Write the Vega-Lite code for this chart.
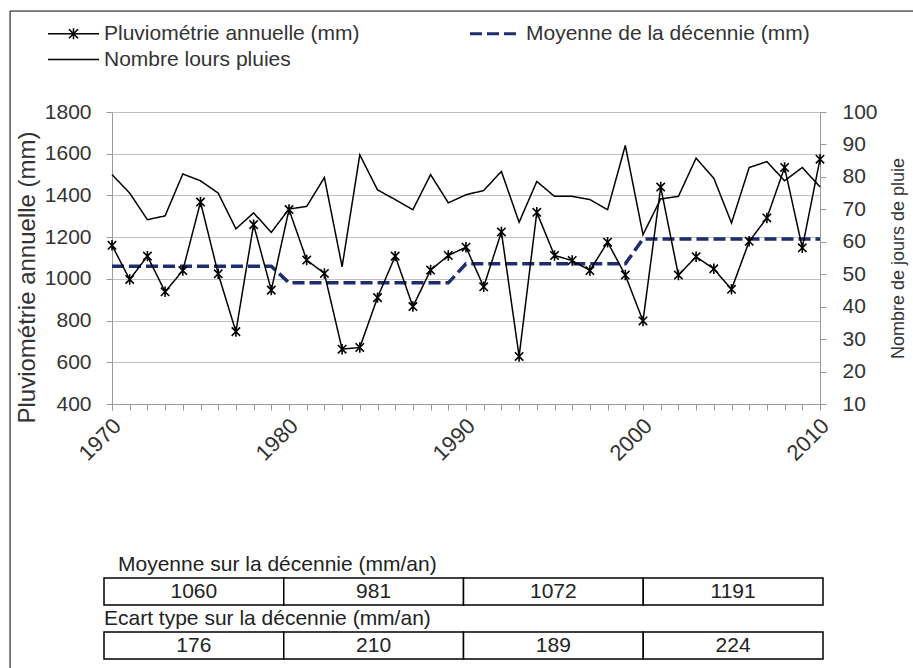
{
  "$schema": "https://vega.github.io/schema/vega-lite/v6.json",
  "width": 708,
  "height": 292,
  "autosize": {"type": "none"},
  "padding": {"left": 112, "top": 112, "right": 93, "bottom": 264},
  "background": "white",
  "config": {
    "font": "Liberation Sans",
    "view": {"stroke": null},
    "axis": {"labelFont": "Liberation Sans", "titleFont": "Liberation Sans", "labelColor": "#333", "titleColor": "#333", "titleFontWeight": "normal"},
    "text": {"font": "Liberation Sans"}
  },
  "datasets": {
    "annees": [
      {"annee": 1970, "pluie": 1161, "jours": 80.7, "moyenne": 1060},
      {"annee": 1971, "pluie": 997, "jours": 75, "moyenne": 1060},
      {"annee": 1972, "pluie": 1109, "jours": 66.8, "moyenne": 1060},
      {"annee": 1973, "pluie": 938, "jours": 68, "moyenne": 1060},
      {"annee": 1974, "pluie": 1040, "jours": 80.9, "moyenne": 1060},
      {"annee": 1975, "pluie": 1368, "jours": 78.8, "moyenne": 1060},
      {"annee": 1976, "pluie": 1024, "jours": 75, "moyenne": 1060},
      {"annee": 1977, "pluie": 747, "jours": 64, "moyenne": 1060},
      {"annee": 1978, "pluie": 1260, "jours": 68.9, "moyenne": 1060},
      {"annee": 1979, "pluie": 946, "jours": 62.9, "moyenne": 1060},
      {"annee": 1980, "pluie": 1332, "jours": 70.1, "moyenne": 981},
      {"annee": 1981, "pluie": 1090, "jours": 70.9, "moyenne": 981},
      {"annee": 1982, "pluie": 1026, "jours": 79.8, "moyenne": 981},
      {"annee": 1983, "pluie": 663, "jours": 52.3, "moyenne": 981},
      {"annee": 1984, "pluie": 671, "jours": 86.8, "moyenne": 981},
      {"annee": 1985, "pluie": 910, "jours": 76, "moyenne": 981},
      {"annee": 1986, "pluie": 1109, "jours": 73, "moyenne": 981},
      {"annee": 1987, "pluie": 867, "jours": 69.9, "moyenne": 981},
      {"annee": 1988, "pluie": 1042, "jours": 80.7, "moyenne": 981},
      {"annee": 1989, "pluie": 1112, "jours": 72, "moyenne": 981},
      {"annee": 1990, "pluie": 1152, "jours": 74.5, "moyenne": 1072},
      {"annee": 1991, "pluie": 962, "jours": 75.8, "moyenne": 1072},
      {"annee": 1992, "pluie": 1225, "jours": 81.7, "moyenne": 1072},
      {"annee": 1993, "pluie": 628, "jours": 66, "moyenne": 1072},
      {"annee": 1994, "pluie": 1319, "jours": 78.6, "moyenne": 1072},
      {"annee": 1995, "pluie": 1112, "jours": 74, "moyenne": 1072},
      {"annee": 1996, "pluie": 1088, "jours": 74, "moyenne": 1072},
      {"annee": 1997, "pluie": 1040, "jours": 73, "moyenne": 1072},
      {"annee": 1998, "pluie": 1176, "jours": 69.9, "moyenne": 1072},
      {"annee": 1999, "pluie": 1018, "jours": 89.7, "moyenne": 1072},
      {"annee": 2000, "pluie": 798, "jours": 62.2, "moyenne": 1191},
      {"annee": 2001, "pluie": 1440, "jours": 73.2, "moyenne": 1191},
      {"annee": 2002, "pluie": 1018, "jours": 74, "moyenne": 1191},
      {"annee": 2003, "pluie": 1106, "jours": 85.8, "moyenne": 1191},
      {"annee": 2004, "pluie": 1048, "jours": 79.6, "moyenne": 1191},
      {"annee": 2005, "pluie": 950, "jours": 65.8, "moyenne": 1191},
      {"annee": 2006, "pluie": 1180, "jours": 82.9, "moyenne": 1191},
      {"annee": 2007, "pluie": 1292, "jours": 84.7, "moyenne": 1191},
      {"annee": 2008, "pluie": 1534, "jours": 78.8, "moyenne": 1191},
      {"annee": 2009, "pluie": 1149, "jours": 82.9, "moyenne": 1191},
      {"annee": 2010, "pluie": 1574, "jours": 76.9, "moyenne": 1191}
    ],
    "decennies": [
      {"decennie": "1970-1979", "moyenne": 1060, "ecart": 176},
      {"decennie": "1980-1989", "moyenne": 981, "ecart": 210},
      {"decennie": "1990-1999", "moyenne": 1072, "ecart": 189},
      {"decennie": "2000-2010", "moyenne": 1191, "ecart": 224}
    ]
  },
  "layer": [
    {
      "data": {"name": "annees"},
      "layer": [
        {
          "mark": {"type": "line", "strokeWidth": 3.5},
          "encoding": {
            "x": {"field": "annee", "type": "quantitative",
              "scale": {"domain": [1970, 2010], "nice": false, "zero": false},
              "axis": {
                "values": [1970, 1980, 1990, 2000, 2010],
                "format": "d",
                "labelAngle": -45, "labelAlign": "right", "labelBaseline": "middle",
                "labelFontSize": 22, "labelPadding": 12, "labelOffset": 5, "labelOverlap": false, "labelFlush": false, "labelBound": false,
                "tickSize": 6, "tickColor": "#999", "domainColor": "#999", "grid": false, "title": null
              }
            },
            "y": {"field": "moyenne", "type": "quantitative",
              "scale": {"domain": [400, 1800], "nice": false, "zero": false},
              "axis": {
                "values": [400,600,800,1000,1200,1400,1600,1800], "format": "d",
                "title": "Pluviométrie annuelle (mm)", "titleFontSize": 24,
                "titleX": -85, "titleY": 165, "titleAngle": -90, "titleAlign": "center", "titleBaseline": "middle",
                "labelFontSize": 21, "labelPadding": 15, "tickSize": 6,
                "grid": true, "gridColor": "#c0c0c0", "domainColor": "#999", "tickColor": "#999"
              }
            },
            "color": {"datum": "Moyenne de la décennie (mm)",
              "scale": {"domain": ["Pluviométrie annuelle (mm)", "Moyenne de la décennie (mm)", "Nombre lours pluies"], "range": ["#000000", "#1f2d6e", "#000000"]},
              "legend": {
                "orient": "none", "legendX": -49, "legendY": -89, "title": null, "columns": 2, "direction": "horizontal",
                "columnPadding": 104, "rowPadding": 4, "symbolSize": 2601, "symbolStrokeWidth": 1.5,
                "labelFontSize": 21, "labelColor": "#333", "labelOffset": 20, "padding": 0, "labelLimit": 400, "symbolType": "stroke",
                "encode": {"symbols": {"update": {
                  "shape": {"signal": "datum.value === 'Pluviométrie annuelle (mm)' ? 'M-1,0L1,0M-0.18,-0.18L0.18,0.18M-0.18,0.18L0.18,-0.18M0,-0.22L0,0.22' : 'stroke'"},
                  "strokeWidth": {"signal": "datum.value === 'Moyenne de la décennie (mm)' ? 3 : 1.5"}
                }}}
              }
            },
            "strokeDash": {"datum": "Moyenne de la décennie (mm)",
              "scale": {"domain": ["Pluviométrie annuelle (mm)", "Moyenne de la décennie (mm)", "Nombre lours pluies"], "range": [[1, 0], [12, 5], [1, 0]]},
              "legend": {
                "orient": "none", "legendX": -49, "legendY": -89, "title": null, "columns": 2, "direction": "horizontal",
                "columnPadding": 104, "rowPadding": 4, "symbolSize": 2601, "symbolStrokeWidth": 1.5,
                "labelFontSize": 21, "labelColor": "#333", "labelOffset": 20, "padding": 0, "labelLimit": 400, "symbolType": "stroke",
                "encode": {"symbols": {"update": {
                  "shape": {"signal": "datum.value === 'Pluviométrie annuelle (mm)' ? 'M-1,0L1,0M-0.18,-0.18L0.18,0.18M-0.18,0.18L0.18,-0.18M0,-0.22L0,0.22' : 'stroke'"},
                  "strokeWidth": {"signal": "datum.value === 'Moyenne de la décennie (mm)' ? 3 : 1.5"}
                }}}
              }
            }
          }
        },
        {
          "mark": {"type": "line", "strokeWidth": 1.5},
          "encoding": {
            "x": {"field": "annee", "type": "quantitative", "scale": {"domain": [1970, 2010], "nice": false, "zero": false}},
            "y": {"field": "pluie", "type": "quantitative", "scale": {"domain": [400, 1800], "nice": false, "zero": false}},
            "color": {"datum": "Pluviométrie annuelle (mm)"},
            "strokeDash": {"datum": "Pluviométrie annuelle (mm)"}
          }
        },
        {
          "mark": {"type": "point", "shape": "M-0.8,-0.8L0.8,0.8M-0.8,0.8L0.8,-0.8M0,-1L0,1", "filled": false, "size": 110, "strokeWidth": 1.6, "color": "#000000", "opacity": 1},
          "encoding": {
            "x": {"field": "annee", "type": "quantitative", "scale": {"domain": [1970, 2010], "nice": false, "zero": false}},
            "y": {"field": "pluie", "type": "quantitative", "scale": {"domain": [400, 1800], "nice": false, "zero": false}}
          }
        },
        {
          "data": {"values": [{"cadre": "bordure"}]},
          "mark": {"type": "rect", "filled": false, "color": "#000000", "strokeWidth": 1, "clip": false},
          "encoding": {
            "x": {"datum": 1964.24, "type": "quantitative", "scale": {"domain": [1970, 2010], "nice": false, "zero": false}},
            "x2": {"datum": 2020},
            "y": {"datum": 2284, "type": "quantitative", "scale": {"domain": [400, 1800], "nice": false, "zero": false}},
            "y2": {"datum": -2000}
          }
        }
      ]
    },
    {
      "data": {"name": "annees"},
      "layer": [
        {
          "mark": {"type": "line", "strokeWidth": 1.5},
          "encoding": {
            "x": {"field": "annee", "type": "quantitative", "scale": {"domain": [1970, 2010], "nice": false, "zero": false},
              "axis": {
                "orient": "bottom",
                "values": [1970,1971,1972,1973,1974,1975,1976,1977,1978,1979,1980,1981,1982,1983,1984,1985,1986,1987,1988,1989,1990,1991,1992,1993,1994,1995,1996,1997,1998,1999,2000,2001,2002,2003,2004,2005,2006,2007,2008,2009,2010],
                "labels": false, "domain": false, "grid": false, "title": null, "tickSize": 6, "tickColor": "#999"
              }
            },
            "y": {"field": "jours", "type": "quantitative",
              "scale": {"domain": [10, 100], "nice": false, "zero": false},
              "axis": {
                "orient": "right", "values": [10,20,30,40,50,60,70,80,90,100], "format": "d",
                "title": "Nombre de jours de pluie", "titleFontSize": 18,
                "titleX": 78, "titleY": 146, "titleAngle": -90, "titleAlign": "center", "titleBaseline": "middle",
                "labelFontSize": 21, "labelPadding": 16, "tickSize": 6, "grid": false, "domainColor": "#999", "tickColor": "#999"
              }
            },
            "color": {"datum": "Nombre lours pluies"},
            "strokeDash": {"datum": "Nombre lours pluies"}
          }
        }
      ]
    },
    {
      "data": {"name": "decennies"},
      "layer": [
        {
          "mark": {"type": "rect", "fill": "white", "stroke": "black", "strokeWidth": 1.5},
          "encoding": {
            "x": {"field": "decennie", "type": "nominal", "scale": {"type": "band", "domain": ["1970-1979", "1980-1989", "1990-1999", "2000-2010"], "range": [-8, 711], "paddingInner": 0, "paddingOuter": 0}, "axis": null},
            "y": {"datum": "moy", "type": "nominal", "scale": {"type": "band", "domain": ["titre_moy", "moy", "titre_ecart", "ecart"], "range": [439, 547], "paddingInner": 0, "paddingOuter": 0}, "axis": null}
          }
        },
        {
          "mark": {"type": "text", "fontSize": 21, "color": "#222"},
          "encoding": {
            "x": {"field": "decennie", "type": "nominal"},
            "y": {"datum": "moy", "type": "nominal"},
            "text": {"field": "moyenne", "type": "quantitative", "format": "d"}
          }
        },
        {
          "mark": {"type": "rect", "fill": "white", "stroke": "black", "strokeWidth": 1.5},
          "encoding": {
            "x": {"field": "decennie", "type": "nominal"},
            "y": {"datum": "ecart", "type": "nominal"}
          }
        },
        {
          "mark": {"type": "text", "fontSize": 21, "color": "#222"},
          "encoding": {
            "x": {"field": "decennie", "type": "nominal"},
            "y": {"datum": "ecart", "type": "nominal"},
            "text": {"field": "ecart", "type": "quantitative", "format": "d"}
          }
        },
        {
          "data": {"values": [{"titre": "Moyenne sur la décennie (mm/an)"}]},
          "mark": {"type": "text", "fontSize": 21, "color": "#222", "align": "left", "dx": 14},
          "encoding": {
            "x": {"datum": "1970-1979", "type": "nominal", "bandPosition": 0},
            "y": {"datum": "titre_moy", "type": "nominal"},
            "text": {"field": "titre", "type": "nominal"}
          }
        },
        {
          "data": {"values": [{"titre": "Ecart type sur la décennie (mm/an)"}]},
          "mark": {"type": "text", "fontSize": 21, "color": "#222", "align": "left", "dx": 0},
          "encoding": {
            "x": {"datum": "1970-1979", "type": "nominal", "bandPosition": 0},
            "y": {"datum": "titre_ecart", "type": "nominal"},
            "text": {"field": "titre", "type": "nominal"}
          }
        }
      ]
    }
  ],
  "resolve": {"scale": {"x": "independent", "y": "independent"}}
}
